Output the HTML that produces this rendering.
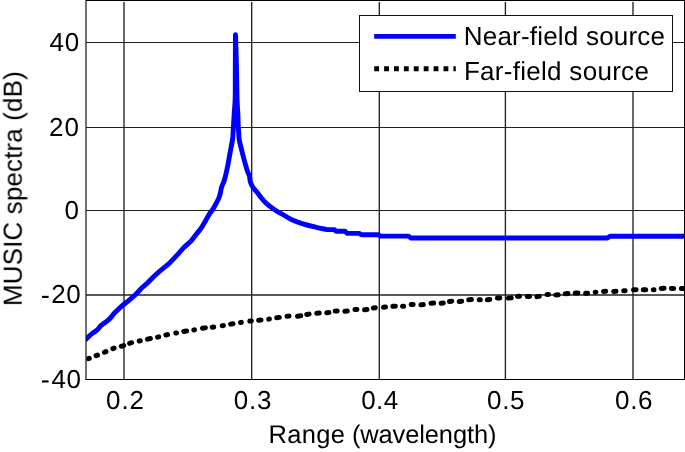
<!DOCTYPE html>
<html><head><meta charset="utf-8"><style>
html,body{margin:0;padding:0;background:#fff;overflow:hidden;}
svg{display:block;}
text{font-family:"Liberation Sans", sans-serif;font-size:25px;fill:#000;text-rendering:geometricPrecision;}
</style></head><body>
<svg width="685" height="452" viewBox="0 0 685 452">
<rect x="0" y="0" width="685" height="452" fill="#fff"/>
<defs><clipPath id="ax"><rect x="86" y="0" width="599" height="380"/></clipPath></defs>
<g stroke="#222" stroke-width="1.35" fill="none">
<line x1="124.0" y1="2" x2="124.0" y2="379"/><line x1="251.7" y1="2" x2="251.7" y2="379"/><line x1="379.3" y1="2" x2="379.3" y2="379"/><line x1="505.4" y1="2" x2="505.4" y2="379"/><line x1="633.0" y1="2" x2="633.0" y2="379"/><line x1="86" y1="42.45" x2="684" y2="42.45" stroke-width="1.1"/><line x1="86" y1="127.45" x2="684" y2="127.45" stroke-width="1.1"/><line x1="86" y1="210.5" x2="684" y2="210.5" stroke-width="1.1"/><line x1="86" y1="295.0" x2="684" y2="295.0" stroke-width="1.35"/>
</g>
<g clip-path="url(#ax)">
<path d="M88.40 358.69 L89.35 358.31 M96.10 355.68 L97.50 355.12 M104.50 352.20 L105.95 351.60 M112.90 348.61 L114.10 348.19 M121.30 346.28 L123.70 345.52 M129.60 343.29 L131.60 342.71 M139.20 341.03 L140.30 340.77 M147.50 339.11 L150.40 338.49 M157.60 337.12 L158.70 336.88 M165.90 334.98 L167.50 334.62 M175.80 333.07 L176.50 332.93 M183.70 331.45 L186.60 330.95 M193.80 329.96 L194.50 329.84 M202.50 328.32 L205.40 327.88 M212.20 327.20 L213.70 327.00 M222.25 325.80 L223.40 325.60 M230.60 324.12 L233.00 323.68 M240.50 322.51 L241.30 322.39 M249.80 321.10 L251.40 320.90 M258.60 320.22 L261.00 319.98 M268.70 319.15 L269.40 319.05 M276.70 317.80 L279.30 317.40 M287.00 316.28 L289.00 316.12 M297.50 316.16 L300.80 315.84 M306.70 314.48 L309.10 314.12 M316.70 313.31 L319.20 313.09 M326.70 312.73 L328.90 312.47 M335.20 311.08 L337.20 310.92 M344.80 311.30 L347.30 311.10 M354.90 309.58 L356.90 309.42 M364.50 309.82 L367.00 309.58 M373.30 307.94 L375.30 307.66 M383.50 307.18 L385.50 307.02 M392.80 306.26 L395.40 306.14 M402.50 306.35 L403.60 306.25 M411.20 304.58 L413.20 304.42 M420.90 304.78 L423.30 304.62 M431.00 303.20 L433.70 303.00 M441.10 303.26 L443.30 303.04 M449.40 301.42 L451.80 301.18 M459.20 301.41 L461.70 301.19 M468.70 299.70 L471.40 299.50 M479.20 299.80 L480.30 299.80 M487.30 299.72 L489.80 299.48 M497.40 298.09 L499.80 297.91 M508.30 298.12 L511.20 297.88 M517.50 296.38 L519.50 296.22 M527.20 296.49 L529.60 296.51 M536.90 296.63 L539.30 296.37 M547.00 294.51 L548.50 294.39 M555.70 294.96 L558.20 294.84 M565.30 293.72 L568.00 293.48 M575.20 293.12 L577.90 293.08 M585.60 293.35 L587.60 293.25 M595.20 292.24 L595.90 292.16 M603.50 291.45 L605.70 291.35 M613.60 291.44 L616.00 291.36 M623.70 290.76 L625.20 290.64 M633.50 289.86 L636.10 289.74 M643.30 289.80 L645.70 289.80 M653.30 289.83 L654.00 289.77 M661.20 288.40 L664.10 288.20 M671.30 288.49 L673.70 288.51 M681.40 288.50 L683.50 288.50" fill="none" stroke="#000" stroke-width="5.0" stroke-linecap="round"/>
<path d="M86.00 339.30 C86.57 338.73 88.35 336.88 89.40 335.90 C90.45 334.92 91.33 334.13 92.30 333.40 C93.27 332.67 94.22 332.23 95.20 331.50 C96.18 330.77 97.28 329.95 98.20 329.00 C99.12 328.05 99.80 326.72 100.70 325.80 C101.60 324.88 102.55 324.27 103.60 323.50 C104.65 322.73 105.87 322.12 107.00 321.20 C108.13 320.28 109.28 319.22 110.40 318.00 C111.52 316.78 112.68 315.07 113.70 313.90 C114.72 312.73 115.12 312.33 116.50 311.00 C117.88 309.67 119.88 307.72 122.00 305.90 C124.12 304.08 126.80 302.13 129.20 300.10 C131.60 298.07 134.37 295.67 136.40 293.70 C138.43 291.73 139.60 290.05 141.40 288.30 C143.20 286.55 145.03 285.25 147.20 283.20 C149.37 281.15 152.00 278.27 154.40 276.00 C156.80 273.73 159.20 271.63 161.60 269.60 C164.00 267.57 166.13 266.30 168.80 263.80 C171.47 261.30 175.11 257.30 177.60 254.60 C180.09 251.90 181.57 249.80 183.75 247.60 C185.93 245.40 188.51 243.73 190.70 241.40 C192.89 239.07 195.02 236.03 196.90 233.60 C198.78 231.17 200.48 229.08 202.00 226.80 C203.52 224.52 204.75 222.05 206.00 219.90 C207.25 217.75 208.42 215.57 209.50 213.90 C210.58 212.23 211.43 211.57 212.50 209.90 C213.57 208.23 214.83 205.90 215.90 203.90 C216.97 201.90 218.15 199.72 218.90 197.90 C219.65 196.08 219.95 194.82 220.40 193.00 C220.85 191.18 220.93 189.17 221.60 187.00 C222.27 184.83 223.35 183.67 224.40 180.00 C225.45 176.33 227.03 169.17 227.90 165.00 C228.78 160.83 228.89 159.17 229.65 155.00 C230.41 150.83 231.89 143.50 232.45 140.00 C233.01 136.50 232.84 136.17 233.00 134.00 C233.16 131.83 233.18 130.67 233.40 127.00 C233.62 123.33 234.00 116.83 234.30 112.00 C234.60 107.17 235.03 105.00 235.20 98.00 C235.37 91.00 235.25 80.53 235.30 70.00 C235.35 59.47 235.47 40.67 235.50 34.80 C235.63 39.00 236.08 51.63 236.30 60.00 C236.52 68.37 236.67 78.33 236.80 85.00 C236.93 91.67 236.92 95.00 237.10 100.00 C237.28 105.00 237.70 110.50 237.90 115.00 C238.10 119.50 238.15 123.83 238.30 127.00 C238.45 130.17 238.63 131.83 238.80 134.00 C238.97 136.17 238.62 136.50 239.30 140.00 C239.98 143.50 241.61 150.00 242.90 155.00 C244.19 160.00 245.97 166.52 247.05 170.00 C248.13 173.48 248.84 173.88 249.40 175.90 C249.96 177.92 249.80 180.18 250.40 182.10 C251.00 184.02 251.83 185.63 253.00 187.40 C254.17 189.17 256.00 190.93 257.40 192.70 C258.80 194.47 260.07 196.38 261.40 198.00 C262.73 199.62 263.85 200.92 265.40 202.40 C266.95 203.88 268.78 205.42 270.70 206.90 C272.62 208.38 274.98 210.08 276.90 211.30 C278.82 212.52 279.78 212.83 282.20 214.20 C284.62 215.57 287.80 217.83 291.40 219.50 C295.00 221.17 299.67 222.90 303.80 224.20 C307.93 225.50 312.50 226.43 316.20 227.30 C319.90 228.17 324.37 229.05 326.00 229.40 L326.00 229.60 L334.50 229.60 L336.00 231.20 L345.00 231.20 L347.00 233.40 L359.50 233.40 L361.50 234.80 L378.50 234.80 L380.50 236.10 L408.50 236.10 L411.00 238.00 L607.50 238.00 L610.00 236.20 L685.00 236.20" fill="none" stroke="#0000ff" stroke-width="4.9" stroke-linecap="round" stroke-linejoin="round"/>
</g>
<g fill="none" stroke="#000">
<line x1="86" y1="0" x2="86" y2="380" stroke-width="1.3" stroke="#222"/>
<line x1="86" y1="0.5" x2="685" y2="0.5" stroke-width="1"/>
<line x1="684.5" y1="0" x2="684.5" y2="380" stroke-width="1"/>
<line x1="85.5" y1="379.5" x2="685" y2="379.5" stroke-width="1.1"/>
</g>
<!-- legend -->
<rect x="359.5" y="15.5" width="313" height="76" fill="#fff" stroke="#111" stroke-width="1"/>
<line x1="374.2" y1="36.4" x2="455.8" y2="36.4" stroke="#0000ff" stroke-width="4.9"/>
<line x1="374.2" y1="68.7" x2="455.8" y2="68.7" stroke="#000" stroke-width="4.85" stroke-dasharray="4.85 5.05"/>
<g style="will-change:transform">
<text x="463.8" y="44.8" style="font-size:26px;letter-spacing:0.2px">Near-field source</text>
<text x="463.9" y="80.4" style="font-size:26px;letter-spacing:0.29px">Far-field source</text>
<!-- x tick labels -->
<text x="106.0" y="409" style="font-size:26px;letter-spacing:0.93px">0.2</text>
<text x="233.7" y="409" style="font-size:26px;letter-spacing:0.83px">0.3</text>
<text x="361.2" y="409" style="font-size:26px;letter-spacing:0.45px">0.4</text>
<text x="487.1" y="409" style="font-size:26px;letter-spacing:0.64px">0.5</text>
<text x="615.1" y="409" style="font-size:26px;letter-spacing:0.58px">0.6</text>
<!-- y tick labels -->
<text x="49.4" y="51.2" style="font-size:26px;letter-spacing:0.83px">40</text>
<text x="48.9" y="135.6" style="font-size:26px;letter-spacing:1.14px">20</text>
<text x="64.6" y="218.7" style="font-size:26px">0</text>
<text x="51.2" y="303.4" style="font-size:26px;letter-spacing:0.55px">20</text>
<text x="51.4" y="387.8" style="font-size:26px;letter-spacing:0.58px">40</text>
<!-- axis labels -->
<text y="443" style="font-size:25.5px"><tspan x="268.4" style="letter-spacing:0.33px">Range</tspan><tspan x="351.9" style="letter-spacing:-0.13px">(wavelength)</tspan></text>
<text transform="translate(21.7,306.1) rotate(-90)" style="font-size:26px;letter-spacing:0.13px">MUSIC spectra (dB)</text>
</g>
<rect x="42.0" y="295.85" width="6.6" height="2.1" fill="#000"/>
<rect x="42.0" y="380.4" width="6.6" height="2.1" fill="#000"/>
</svg>
</body></html>
